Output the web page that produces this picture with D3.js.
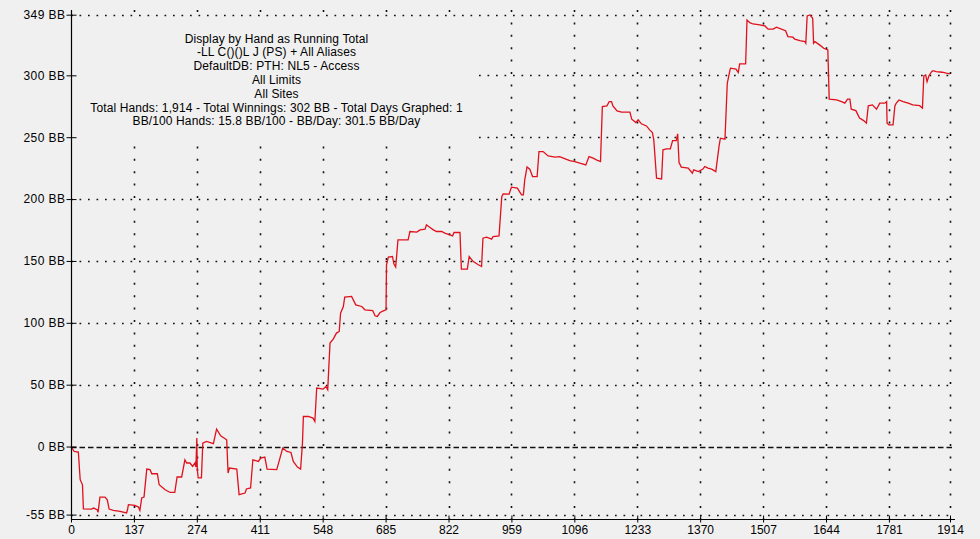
<!DOCTYPE html>
<html>
<head>
<meta charset="utf-8">
<script src="https://cdn.jsdelivr.net/npm/d3@7"></script>
<style>
  html, body { margin: 0; padding: 0; background: #f0f0f0; }
  svg { display: block; }
  text { font-family: "Liberation Sans", Arial, sans-serif; font-size: 12px; fill: #000; }
</style>
</head>
<body>
<svg id="chart" width="980" height="539"></svg>
<script>
// ---- data ----
const hands = [0,7,16,20,25,27,45,49,57,59,63,74,79,83,92,107,121,123,125,139,147,150,154,159,165,172,176,188,192,205,216,226,231,241,248,252,259,265,270,272,274,275,277,284,287,295,310,317,326,339,342,345,361,366,379,382,391,396,408,413,422,427,448,455,461,470,479,484,493,500,504,506,517,527,531,535,549,555,559,564,571,578,584,587,593,596,611,620,633,640,657,662,667,673,680,686,687,691,700,703,707,712,734,738,753,760,771,774,781,789,796,807,814,825,831,834,847,850,863,867,876,887,894,897,905,916,919,932,938,941,954,959,972,981,985,988,993,999,1005,1015,1019,1028,1039,1054,1064,1072,1086,1097,1108,1121,1128,1137,1144,1153,1157,1167,1172,1177,1180,1189,1199,1217,1221,1230,1235,1242,1253,1260,1266,1269,1275,1286,1289,1297,1305,1310,1318,1321,1324,1329,1344,1353,1356,1366,1376,1380,1387,1395,1404,1411,1414,1424,1429,1435,1436,1448,1453,1456,1469,1472,1478,1485,1500,1511,1518,1529,1536,1547,1556,1561,1572,1576,1587,1598,1600,1603,1609,1615,1617,1620,1630,1639,1648,1651,1667,1678,1685,1691,1696,1699,1709,1717,1726,1732,1736,1745,1754,1761,1772,1776,1777,1781,1790,1794,1797,1803,1812,1823,1833,1848,1854,1857,1861,1864,1868,1874,1877,1884,1897,1906,1914];
const bb = [0,-4,-4.4,-26.8,-30.9,-50.3,-50.6,-49.7,-51.1,-53.2,-40.8,-40.8,-43,-50.5,-51.6,-52.4,-53.7,-51.1,-47,-47.6,-48.9,-51.6,-41.6,-40.8,-18.2,-18.7,-22,-22,-30.9,-34.9,-37.1,-37.1,-24.6,-24.6,-10.7,-13.3,-13.3,-16.1,-13.3,-16.6,6.9,-18.7,-25.4,-25.4,2.8,4.1,2.3,14.1,8.7,5.5,-21.4,-17.4,-18.2,-38.9,-37.6,-34.3,-33.5,-10.7,-12,-9.3,-8.5,-18.2,-18.7,-9.3,-1.2,-4,-4.8,-12,-16.6,-18.2,2.8,24.3,24.3,23,20.3,47.3,46.4,48.5,45.9,83.6,86.8,91.7,93,107.8,113.2,120.8,121.3,114.5,113.2,110.5,109.9,105.7,105.1,108.3,109.7,110.5,146.9,153.1,153.6,147.7,145,167.1,167.1,173.8,173.3,175.1,175.7,179.2,177.3,175.1,173.8,173.8,172.5,171.1,170.3,173,173,143.4,143.4,153.6,149.5,146.9,145.5,168.4,169.2,167.6,169.7,170.3,202,204.2,204,209.6,208.8,203.4,203.4,215.5,226,224.2,218.2,218.2,238.4,238.4,234.9,233.9,234.3,233.1,231.1,230.3,229,227.6,234.3,233.1,231.7,230.3,274.7,275.3,278.8,278.8,275.3,271.3,270.2,270.2,264.6,261.8,264,260.8,259.1,255.9,253.7,247.8,216.9,216.3,239.8,240.6,240.6,247.3,247.3,252.7,229.5,225.8,225,220.9,223.6,222.2,224.2,226.3,225,224.2,222.2,242.4,249.2,248.4,293.6,304.4,305.8,305,302.2,309.2,309.2,344.8,342.6,341.5,340.7,339.9,337.3,337.3,338.9,337.3,336.1,331.3,330.8,329.2,328,327.2,325.9,348,348.8,346.1,325.9,327.2,324.6,321.9,320.5,280.7,280.1,278.8,277.5,280.7,280.7,272.6,271.5,265.4,263.4,261.3,275.3,276.1,272.6,277.5,277.5,278.8,261.3,260,260,275.3,277.5,280.1,278.8,277.5,276.1,275.5,273.5,299.5,300.3,294.9,299.5,303,303.8,303,302.5,301.7,301.1,301];
const xTicks = [0,137,274,411,548,685,822,959,1096,1233,1370,1507,1644,1781,1914];
const yTicks = [-55,0,50,100,150,200,250,300,349];
const yUnit = " BB";
const titleLines = [
  "Display by Hand as Running Total",
  "-LL C()()L J (PS) + All Aliases",
  "DefaultDB: PTH: NL5 - Access",
  "All Limits",
  "All Sites",
  "Total Hands: 1,914 - Total Winnings: 302 BB - Total Days Graphed: 1",
  "BB/100 Hands: 15.8 BB/100 - BB/Day: 301.5 BB/Day"
];

// ---- layout ----
const svg = d3.select("#chart");
const x0 = 71, x1 = 950, xEnd = 955;
const yTop = 14.7, yBot = 514.6, axisY = 519, axisTop = 10;
const x = d3.scaleLinear().domain([0, 1914]).range([x0, x1]);
const y = d3.scaleLinear().domain([-55, 349]).range([yBot, yTop]);

svg.append("rect").attr("width", 980).attr("height", 539).attr("fill", "#f0f0f0");

// grid
const grid = svg.append("g");
grid.selectAll("line.h").data(yTicks).join("line")
  .attr("x1", x0).attr("x2", xEnd)
  .attr("y1", d => Math.round(y(d)) + 0.5).attr("y2", d => Math.round(y(d)) + 0.5)
  .attr("stroke", "#111")
  .attr("stroke-width", d => d === 0 ? 1.5 : 1.6)
  .attr("stroke-dasharray", d => d === 0 ? "5.5,3" : "1.7,6.8");
grid.selectAll("line.v").data(xTicks.filter(d => d > 0)).join("line")
  .attr("x1", d => Math.round(x(d)) + 0.5).attr("x2", d => Math.round(x(d)) + 0.5)
  .attr("y1", axisTop).attr("y2", axisY)
  .attr("stroke", "#111").attr("stroke-width", 1.6)
  .attr("stroke-dasharray", "2,10.4");

// text box (covers grid)
svg.append("rect").attr("x", 72).attr("y", 17).attr("width", 406).attr("height", 122).attr("fill", "#f0f0f0");
svg.append("g").selectAll("text").data(titleLines).join("text")
  .attr("x", 276.5).attr("y", (d, i) => 42.5 + i * 13.8)
  .attr("text-anchor", "middle").style("letter-spacing", "0.12px").text(d => d);

// line
const line = d3.line().x((d, i) => x(hands[i])).y(d => y(d)).curve(d3.curveLinear);
svg.append("path").datum(bb).attr("d", line)
  .attr("fill", "none").attr("stroke", "#e0101c").attr("stroke-width", 1.3)
  .attr("stroke-linejoin", "miter");

// axes
const yAxis = d3.axisLeft(y).tickValues(yTicks).tickSize(5).tickPadding(1).tickFormat(d => d + yUnit);
const gy = svg.append("g").attr("transform", `translate(${x0 + 0.5},0)`).call(yAxis);
gy.select(".domain").remove();
gy.selectAll(".tick line").attr("x1", -5).attr("x2", 5).attr("stroke", "#000");
gy.selectAll(".tick text").style("font-size", "12px").style("letter-spacing", "0.45px")
  .style("font-family", "Liberation Sans, Arial, sans-serif");

const xAxis = d3.axisBottom(x).tickValues(xTicks).tickSize(3).tickFormat(d3.format("d"));
const gx = svg.append("g").attr("transform", `translate(0,${axisY + 0.5})`).call(xAxis);
gx.select(".domain").remove();
gx.selectAll(".tick line").attr("y1", -4).attr("y2", 3).attr("stroke", "#000");
gx.selectAll(".tick text").attr("y", 14.5).attr("dy", null)
  .style("font-size", "12px").style("font-family", "Liberation Sans, Arial, sans-serif");

svg.append("line").attr("x1", x0 + 0.5).attr("x2", x0 + 0.5).attr("y1", axisTop).attr("y2", axisY + 1)
  .attr("stroke", "#000").attr("stroke-width", 1.2);
svg.append("line").attr("x1", x0).attr("x2", xEnd).attr("y1", axisY + 0.5).attr("y2", axisY + 0.5)
  .attr("stroke", "#000").attr("stroke-width", 1.2);
</script>
</body>
</html>
